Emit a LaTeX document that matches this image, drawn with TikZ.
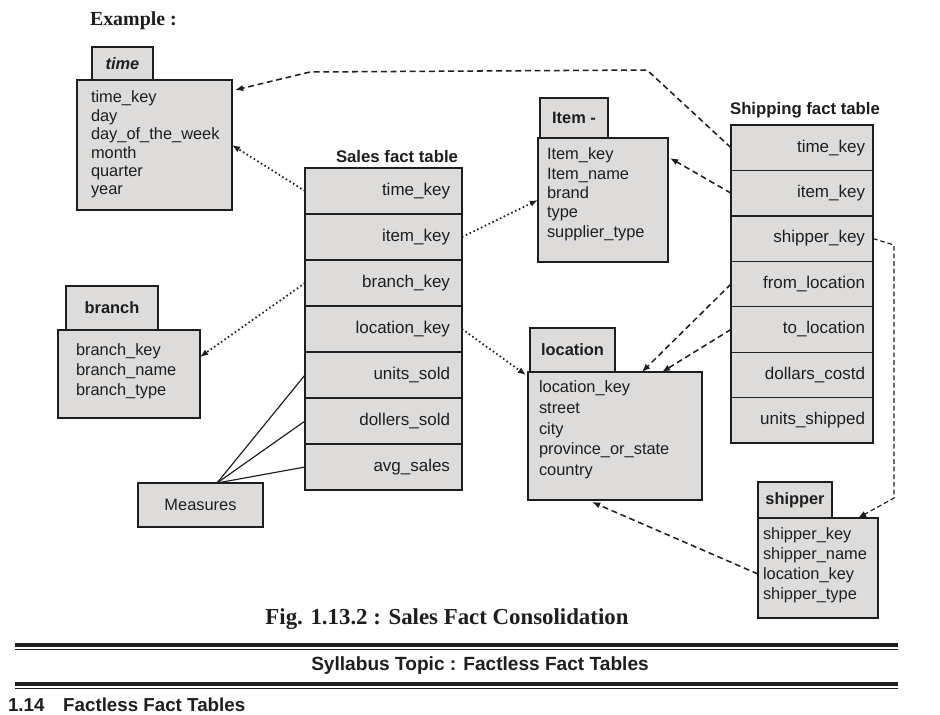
\documentclass[tikz,border=0pt]{standalone}
\usepackage{fontspec}
\setmainfont{Liberation Sans}
\newfontfamily\serifface{Liberation Serif}
\usetikzlibrary{arrows.meta,calc}
\definecolor{boxgray}{HTML}{DEDCDB}
\definecolor{ink}{HTML}{1E1E1E}
\newcommand\tblbox[6][]{\node[tbl,#1, minimum width={(#4-#2)*0.03cm}, minimum height={(#5-#3)*0.03cm}] (#6) at ({(#2+#4)/2},{(#3+#5)/2})}
\begin{document}
\begin{tikzpicture}[x=0.03cm,y=-0.03cm,
  every node/.style={inner sep=0pt, outer sep=0pt, text=ink},
  tbl/.style={draw=ink, line width=1.1pt, fill=boxgray},
  tabtitle/.style={font=\fontsize{14}{16}\selectfont\bfseries},
  bodytext/.style={anchor=north west, align=left, font=\fontsize{14}{16.8}\selectfont},
  rowbox/.style={tbl, align=right, font=\fontsize{14.5}{16}\selectfont},
  dotline/.style={ink, line width=1.5pt, dash pattern=on 1.3pt off 2.3pt, -{Latex[length=7pt,width=5.5pt]}},
  dashline/.style={ink, line width=1.3pt, dash pattern=on 5pt off 3.2pt, -{Latex[length=7pt,width=5.5pt]}},
  measline/.style={ink, line width=1pt}
]
\useasboundingbox (0,0) rectangle (940,714);
\clip (0,0) rectangle (940,714);
\fill[white] (0,0) rectangle (940,714);

% heading
\node[font=\serifface\fontsize{17}{19}\selectfont\bfseries, anchor=west] (example) at (90,21) {Example :};

% time
\tblbox[tabtitle, font=\fontsize{14}{16}\selectfont\bfseries\itshape]{92}{47}{153}{80}{timetab} {time};
\tblbox{77}{80}{232}{210}{time} {};
\node[bodytext, font=\fontsize{14}{15.7}\selectfont] (timetxt) at (91,91) {time\_key\\day\\day\_of\_the\_week\\month\\quarter\\year};

% branch
\tblbox[tabtitle]{66}{286}{158}{330}{branchtab} {branch};
\tblbox{58}{330}{200}{418}{branch} {};
\node[bodytext] (branchtxt) at (76,344) {branch\_key\\branch\_name\\branch\_type};

% measures
\tblbox[font=\fontsize{14}{16}\selectfont]{138}{483}{263}{527}{meas} {Measures};

% sales fact table
\node[font=\fontsize{14.3}{16}\selectfont\bfseries] (salestitle) at (397,157) {Sales fact table};
\foreach \t [count=\i] in {time\_key,item\_key,branch\_key,location\_key,units\_sold,dollers\_sold,avg\_sales}{
  \node[rowbox, text width={(157-24)*0.03cm}, inner xsep={12*0.03cm}, minimum height={46*0.03cm}] (s\i) at (383.5,{168+46*(\i-0.5)}) {\t};
}

% item
\tblbox[tabtitle]{540}{98}{608}{138}{itemtab} {Item -};
\tblbox{538}{138}{668}{262}{item} {};
\node[bodytext, font=\fontsize{14}{16.5}\selectfont] (itemtxt) at (547,148) {Item\_key\\Item\_name\\brand\\type\\supplier\_type};

% location
\tblbox[tabtitle]{530}{328}{615}{372}{loctab} {location};
\tblbox{528}{372}{702}{500}{loc} {};
\node[bodytext, font=\fontsize{14}{17.6}\selectfont] (loctxt) at (539,381) {location\_key\\street\\city\\province\_or\_state\\country};

% shipping fact table
\node[font=\fontsize{14.3}{16}\selectfont\bfseries] (shiptitle) at (805,110) {Shipping fact table};
\foreach \t [count=\i] in {time\_key,item\_key,shipper\_key,from\_location,to\_location,dollars\_costd,units\_shipped}{
  \node[rowbox, text width={(142-16)*0.03cm}, inner xsep={8*0.03cm}, minimum height={45.43*0.03cm}] (h\i) at (802,{125+45.43*(\i-0.5)}) {\t};
}

% shipper
\tblbox[tabtitle]{758}{482}{832}{518}{shiptab} {shipper};
\tblbox{758}{518}{878}{618}{shb} {};
\node[bodytext, font=\fontsize{14}{17}\selectfont] (shtxt) at (763,528) {shipper\_key\\shipper\_name\\location\_key\\shipper\_type};

% connectors: sales (dotted)
\draw[dotline] (s1.west) -- (time.east);
\draw[dotline] (s2.east) -- (item.west);
\draw[dotline] (s3.west) -- ($(branch.east)+(0,-17)$);
\draw[dotline] (s4.east) -- ($(loc.north west)+(-2,3)$);

% connectors: shipping (dashed)
\coordinate (c1) at (647,70);
\coordinate (c2) at (310,72);
\draw[dashline] (h1.west) -- (c1) -- (c2) -- ($(time.north east)+(3,10)$);
\draw[dashline] (h2.west) -- ($(item.north east)+(2,20)$);
\draw[dashline] (h4.west) -- ($(loc.north west)+(114,0)$);
\draw[dashline] (h5.west) -- ($(loc.north west)+(134,0)$);
\coordinate (c3) at (894,245);
\coordinate (c4) at (894,498);
\draw[dashline, line width=1pt, dash pattern=on 4pt off 2.5pt] (h3.east) -- (c3) -- (c4) -- ($(shb.north west)+(100,0)$);
\draw[dashline] ($(shb.west)+(0,6)$) -- ($(loc.south west)+(64,2)$);

% measures lines
\coordinate (mtop) at ($(meas.north west)+(79,0)$);
\draw[measline] (mtop) -- (s5.west);
\draw[measline] (mtop) -- (s6.west);
\draw[measline] (mtop) -- (s7.west);

% caption
\node[font=\serifface\fontsize{19.5}{22}\selectfont\bfseries] (caption) at (447,619) {Fig. 1.13.2 : Sales Fact Consolidation};

% rules
\coordinate (r1a) at (15,645); \coordinate (r1b) at (898,645);
\coordinate (r2a) at (15,684); \coordinate (r2b) at (898,684);
\draw[ink, line width=2.6pt] (r1a) -- (r1b);
\draw[ink, line width=0.8pt] ($(r1a)+(0,4)$) -- ($(r1b)+(0,4)$);
\draw[ink, line width=2.6pt] (r2a) -- (r2b);
\draw[ink, line width=0.8pt] ($(r2a)+(0,4)$) -- ($(r2b)+(0,4)$);
\node[font=\fontsize{16.3}{18}\selectfont\bfseries] (syll) at (480,666) {Syllabus Topic : Factless Fact Tables};
\node[font=\fontsize{16}{18}\selectfont\bfseries, anchor=south west] (sec) at (8,712) {1.14\quad Factless Fact Tables};
\end{tikzpicture}
\end{document}
